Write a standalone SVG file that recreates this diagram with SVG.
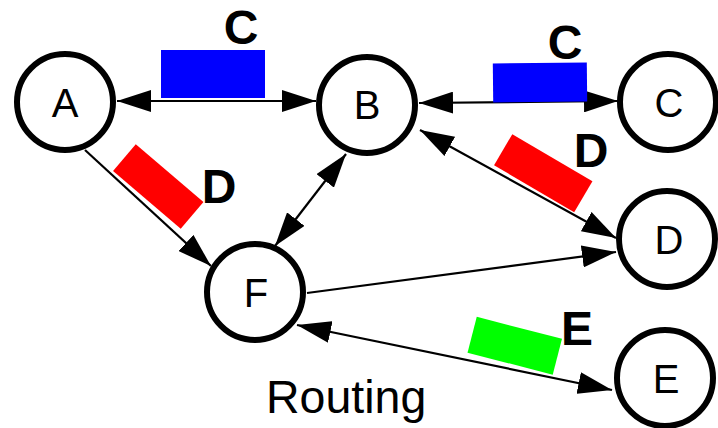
<svg xmlns="http://www.w3.org/2000/svg" width="718" height="428" viewBox="0 0 718 428">
  <style>
    .node circle { fill: #ffffff; stroke: #000000; stroke-width: 6; }
    .node text { font-family: "Liberation Sans", Arial, sans-serif; font-size: 40px; text-anchor: middle; fill: #000; }
    .edge { stroke: #000; stroke-width: 2.2; fill: none; }
    .lbl { font-family: "Liberation Sans", Arial, sans-serif; font-size: 48px; font-weight: bold; text-anchor: middle; fill: #000; }
    .title { font-family: "Liberation Sans", Arial, sans-serif; font-size: 46.5px; fill: #000; }
  </style>
  <defs>
    <marker id="arr" markerUnits="userSpaceOnUse" markerWidth="34" markerHeight="22" refX="34" refY="11" orient="auto-start-reverse">
      <path d="M0,0 L34,11 L0,22 z" fill="#000"/>
    </marker>
  </defs>

  <g id="connectors">
    <line class="edge" x1="117" y1="101" x2="316" y2="101" marker-start="url(#arr)" marker-end="url(#arr)"/>
    <line class="edge" x1="419" y1="103" x2="618" y2="101" marker-start="url(#arr)" marker-end="url(#arr)"/>
    <line class="edge" x1="420" y1="130" x2="616" y2="238" marker-start="url(#arr)" marker-end="url(#arr)"/>
    <line class="edge" x1="85" y1="150" x2="211" y2="266" marker-end="url(#arr)"/>
    <line class="edge" x1="346" y1="154" x2="275" y2="246" marker-start="url(#arr)" marker-end="url(#arr)"/>
    <line class="edge" x1="307" y1="293" x2="616" y2="252" marker-end="url(#arr)"/>
    <line class="edge" x1="297" y1="325" x2="612" y2="390" marker-start="url(#arr)" marker-end="url(#arr)"/>
  </g>

  <g id="edge-labels">
    <rect x="161" y="50" width="104" height="48" fill="#0000ff"/>
    <text class="lbl" x="241" y="44">C</text>
    <rect x="493" y="63" width="94" height="39" fill="#0000ff" transform="rotate(-0.6 540 82)"/>
    <text class="lbl" x="565" y="59">C</text>
    <rect x="113.75" y="169" width="89" height="35" fill="#ff0000" transform="rotate(40.5 158.25 186.5)"/>
    <text class="lbl" x="219" y="203">D</text>
    <rect x="496.75" y="155.25" width="93" height="36" fill="#ff0000" transform="rotate(30.5 543.25 173.25)"/>
    <text class="lbl" x="591" y="167">D</text>
    <rect x="470.75" y="327.25" width="88" height="37" fill="#00ff00" transform="rotate(14.5 514.75 345.75)"/>
    <text class="lbl" x="577" y="345">E</text>
  </g>

  <g id="node-A" class="node"><circle cx="65" cy="102" r="48"/><text x="65" y="117">A</text></g>
  <g id="node-B" class="node"><circle cx="367" cy="105" r="48"/><text x="367" y="119">B</text></g>
  <g id="node-C" class="node"><circle cx="668" cy="102" r="48"/><text x="669" y="117">C</text></g>
  <g id="node-D" class="node"><circle cx="667" cy="239" r="48"/><text x="669" y="254">D</text></g>
  <g id="node-E" class="node"><circle cx="665" cy="378" r="48"/><text x="666" y="393">E</text></g>
  <g id="node-F" class="node"><circle cx="255" cy="292" r="48"/><text x="256" y="307">F</text></g>

  <text class="title" x="266" y="413">Routing</text>
</svg>
